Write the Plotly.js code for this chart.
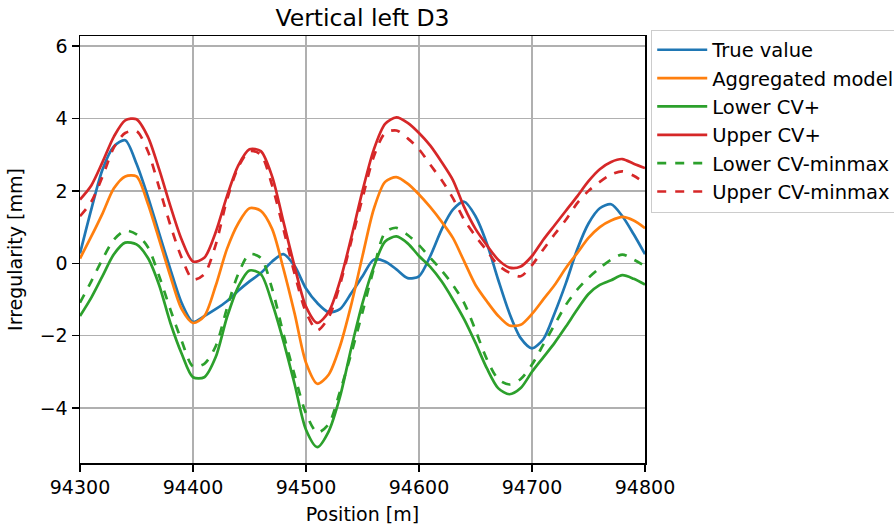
<!DOCTYPE html>
<html><head><meta charset="utf-8">
<script src="https://cdn.plot.ly/plotly-3.0.1.min.js"></script>
<style>body{margin:0;background:#fff}#c{width:894px;height:531px}</style>
</head><body><div id="c"></div>
<script>
const position = [94300,94310,94320,94330,94340,94350,94360,94370,94380,94390,94400,94410,94420,94430,94440,94450,94460,94470,94480,94490,94500,94510,94520,94530,94540,94550,94560,94570,94580,94590,94600,94610,94620,94630,94640,94650,94660,94670,94680,94690,94700,94710,94720,94730,94740,94750,94760,94770,94780,94790,94800];
const trueValue = [0.27,1.49,2.6,3.23,3.4,2.75,1.85,0.83,-0.17,-1.1,-1.62,-1.46,-1.27,-1.05,-0.76,-0.5,-0.27,0.05,0.25,-0.08,-0.7,-1.1,-1.35,-1.27,-0.83,-0.36,0.1,0.05,-0.17,-0.41,-0.36,0.2,0.93,1.48,1.7,1.3,0.55,-0.45,-1.38,-2.07,-2.35,-2.1,-1.38,-0.55,0.38,1.1,1.52,1.63,1.3,0.8,0.25];
const aggregated = [0.13,0.74,1.38,2.07,2.4,2.4,1.65,0.66,-0.36,-1.27,-1.65,-1.46,-0.63,0.39,1.1,1.52,1.45,0.95,-0.15,-1.4,-2.75,-3.33,-3.08,-2.3,-1.15,0.2,1.5,2.25,2.38,2.2,1.9,1.55,1.15,0.7,0.05,-0.6,-1.05,-1.45,-1.72,-1.7,-1.4,-1.0,-0.6,-0.13,0.28,0.7,1.0,1.18,1.28,1.18,0.97];
const lowerCVplus = [-1.46,-0.95,-0.35,0.25,0.57,0.52,0.15,-0.6,-1.65,-2.5,-3.15,-3.15,-2.6,-1.5,-0.65,-0.2,-0.3,-1.1,-2.15,-3.35,-4.6,-5.08,-4.65,-3.7,-2.35,-1.1,-0.1,0.6,0.74,0.55,0.2,-0.1,-0.5,-1.0,-1.55,-2.2,-2.9,-3.45,-3.62,-3.45,-3.0,-2.6,-2.2,-1.75,-1.28,-0.85,-0.6,-0.47,-0.33,-0.43,-0.59];
const upperCVplus = [1.76,2.15,2.8,3.5,3.95,3.98,3.5,2.6,1.58,0.65,0.05,0.15,0.85,1.85,2.7,3.15,3.1,2.4,1.15,-0.1,-1.2,-1.65,-1.35,-0.5,0.7,2.0,3.14,3.85,4.03,3.88,3.6,3.25,2.8,2.3,1.55,0.95,0.5,0.1,-0.12,-0.09,0.2,0.65,1.05,1.45,1.85,2.27,2.6,2.8,2.88,2.75,2.63];
const lowerCVminmax = [-1.09,-0.5,0.12,0.65,0.9,0.8,0.45,-0.35,-1.28,-2.15,-2.85,-2.78,-2.3,-1.25,-0.3,0.25,0.15,-0.7,-1.95,-3.1,-4.15,-4.68,-4.45,-3.55,-2.5,-1.35,-0.15,0.85,0.98,0.78,0.5,0.15,-0.2,-0.6,-1.1,-1.85,-2.65,-3.2,-3.35,-3.2,-2.8,-2.25,-1.7,-1.15,-0.73,-0.4,-0.13,0.1,0.24,0.1,-0.08];
const upperCVminmax = [1.3,1.7,2.4,3.2,3.6,3.65,3.1,2.1,1.05,0.15,-0.45,-0.3,0.5,1.75,2.65,3.1,3.0,2.15,0.95,-0.3,-1.35,-1.85,-1.5,-0.6,0.6,1.8,2.95,3.6,3.67,3.45,3.15,2.72,2.3,1.8,1.2,0.75,0.35,-0.05,-0.26,-0.36,-0.05,0.38,0.8,1.2,1.66,2.0,2.25,2.45,2.54,2.42,2.21];
const names = ["True value","Aggregated model","Lower CV+","Upper CV+","Lower CV-minmax","Upper CV-minmax"];
const series = [trueValue, aggregated, lowerCVplus, upperCVplus, lowerCVminmax, upperCVminmax];
const colors = ["#1f77b4","#ff7f0e","#2ca02c","#d62728","#2ca02c","#d62728"];
const dashes = ["solid","solid","solid","solid","dash","dash"];

const traces = series.map((ys,i)=>({
  x: position, y: ys, name: names[i], type:'scatter', mode:'lines',
  legendgroup: 'g'+i,
  line:{color:colors[i], width:2.7, dash:dashes[i], shape:'spline', smoothing:0.8}
}));
const FF = 'DejaVu Sans, sans-serif';
const layout = {
  width:894, height:531,
  margin:{l:80, r:249, t:36, b:68, autoexpand:false},
  paper_bgcolor:'#fff', plot_bgcolor:'#fff',
  font: {family:FF, size:19, color:'#000'},
  title:{text:'Vertical left D3', x:0.4055, xanchor:'center', y:0.967, yanchor:'middle', font:{family:FF, size:23.5, color:'#000'}},
  xaxis:{range:[94300,94800], tickvals:[94300,94400,94500,94600,94700,94800], ticktext:['94300','94400','94500','94600','94700','94800'],
    showgrid:true, gridcolor:'#b0b0b0', gridwidth:1.4, zeroline:false,
    showline:true, linecolor:'#000', linewidth:1.5, mirror:true, ticks:'outside', ticklen:7, tickwidth:1.5, tickcolor:'#000',
    tickfont:{size:19},
    title:{text:'Position [m]', font:{size:19}, standoff:10}},
  yaxis:{range:[-5.52,6.28], tickvals:[-4,-2,0,2,4,6], ticktext:['\u22124','\u22122','0','2','4','6'],
    showgrid:true, gridcolor:'#b0b0b0', gridwidth:1.4, zeroline:false,
    showline:true, linecolor:'#000', linewidth:1.5, mirror:true, ticks:'outside', ticklen:7, tickwidth:1.5, tickcolor:'#000',
    tickfont:{size:19},
    title:{text:'Irregularity [mm]', font:{size:19}, standoff:12}},
  legend:{x:1.011, xanchor:'left', y:1.015, yanchor:'top', bgcolor:'rgba(255,255,255,0.8)', bordercolor:'#cccccc', borderwidth:1,
    font:{family:FF, size:19.5, color:'#000'}, tracegroupgap:6.5, traceorder:'normal', itemwidth:50},
  showlegend:true
};
Plotly.newPlot('c', traces, layout, {displayModeBar:false, staticPlot:true});
</script></body></html>
